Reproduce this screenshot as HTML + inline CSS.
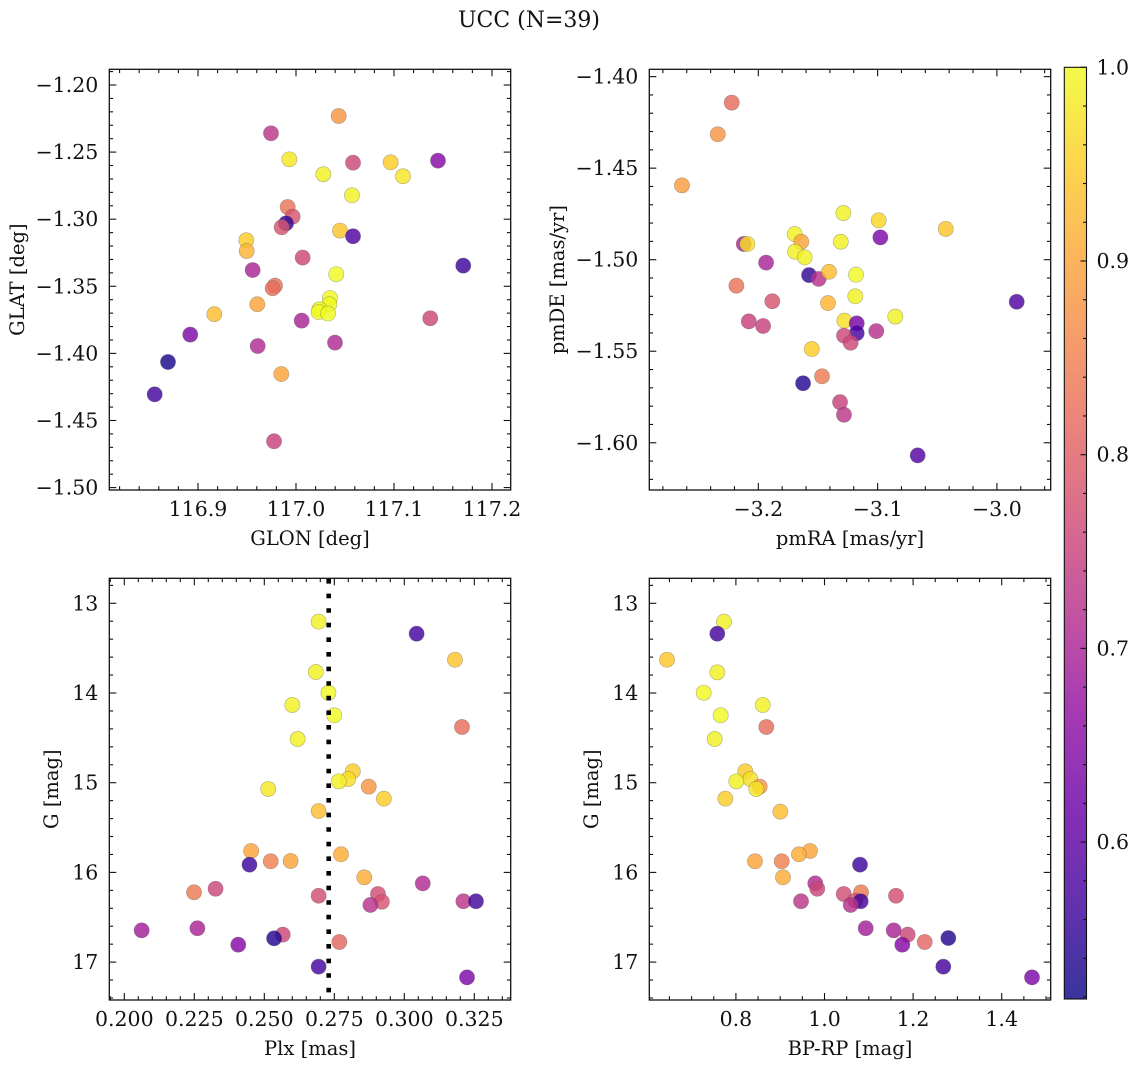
<!DOCTYPE html>
<html><head><meta charset="utf-8">
<style>
html,body{margin:0;padding:0;background:#fff;}
svg{display:block;font-family:"DejaVu Serif","Liberation Serif",serif;}
</style></head>
<body>
<svg id="fig" width="1136" height="1067" viewBox="0 0 1136 1067" xmlns="http://www.w3.org/2000/svg">
<text x="529" y="27" font-size="22" text-anchor="middle" fill="#111">UCC (N=39)</text>
</svg>
<script>
// ---- Panel 1: GLON / GLAT ----
const glon = [117.0436,116.9745,116.9932,117.0582,117.0966,117.1449,117.0279,117.1092,117.0571,116.9915,116.9966,116.9898,116.9854,117.0449,117.0582,116.9493,116.9497,117.0068,116.9558,117.1707,117.0411,116.9786,116.9762,117.0347,117.034,116.9605,117.0238,117.0231,117.0327,116.9167,117.137,117.0058,116.8921,117.0398,116.9609,116.8694,116.985,116.8558,116.9776];
const glat = [-1.2231,-1.236,-1.2554,-1.2579,-1.2576,-1.2564,-1.2665,-1.268,-1.2822,-1.2909,-1.2981,-1.3031,-1.306,-1.3085,-1.3127,-1.3157,-1.3237,-1.3286,-1.3379,-1.3346,-1.341,-1.3495,-1.3515,-1.3587,-1.3634,-1.3634,-1.3672,-1.3692,-1.3703,-1.3708,-1.3738,-1.3756,-1.386,-1.392,-1.3945,-1.4064,-1.4154,-1.4305,-1.4655];
const probPos = [0.88,0.73,0.98,0.76,0.95,0.65,0.99,0.98,0.99,0.83,0.78,0.55,0.78,0.94,0.58,0.95,0.92,0.76,0.70,0.56,1.0,0.83,0.82,1.0,1.0,0.9,1.0,1.0,1.0,0.93,0.76,0.70,0.64,0.71,0.71,0.53,0.9,0.57,0.75];
// ---- Panel 2: pmRA / pmDE ----
const pmra = [-3.2223,-3.234,-3.264,-3.1287,-3.0991,-3.0429,-3.0977,-3.1695,-3.164,-3.1309,-3.2122,-3.2092,-3.1692,-3.1611,-3.1935,-3.1575,-3.1494,-3.1407,-3.1181,-3.2184,-3.1187,-3.1883,-3.1416,-2.9834,-3.0852,-3.1279,-3.1175,-3.208,-3.196,-3.1011,-3.1175,-3.1282,-3.1226,-3.1552,-3.1466,-3.1625,-3.1315,-3.1282,-3.0664];
const pmde = [-1.4142,-1.4315,-1.4594,-1.4745,-1.4785,-1.4832,-1.4878,-1.486,-1.4902,-1.4902,-1.4914,-1.4914,-1.4956,-1.4987,-1.5016,-1.5084,-1.5105,-1.5066,-1.5082,-1.5142,-1.52,-1.5227,-1.5237,-1.523,-1.5311,-1.5333,-1.5348,-1.5337,-1.5362,-1.539,-1.5401,-1.5415,-1.5454,-1.5488,-1.5637,-1.5675,-1.5778,-1.5847,-1.6069];
const probPm = [0.82,0.88,0.89,0.99,0.96,0.94,0.64,0.99,0.9,0.99,0.70,0.97,0.99,0.99,0.70,0.55,0.72,0.93,1.0,0.83,0.99,0.78,0.92,0.58,0.99,0.97,0.63,0.75,0.75,0.72,0.57,0.76,0.76,0.95,0.84,0.54,0.75,0.73,0.59];
// ---- Panels 3 & 4: Plx, BP-RP, G ----
const plx = [0.2694,0.3044,0.3181,0.2684,0.2729,0.26,0.275,0.3206,0.2619,0.2816,0.2799,0.2766,0.2873,0.2514,0.2927,0.2694,0.2453,0.2774,0.2523,0.2594,0.2447,0.2857,0.3066,0.2326,0.2249,0.2694,0.2906,0.292,0.3211,0.3256,0.2879,0.2062,0.2261,0.2566,0.2535,0.2407,0.2768,0.2694,0.3224];
const gmagPlx = [13.205,13.339,13.629,13.766,13.997,14.134,14.249,14.379,14.513,14.873,14.959,14.985,15.044,15.07,15.178,15.316,15.761,15.798,15.876,15.873,15.914,16.055,16.122,16.182,16.222,16.26,16.241,16.327,16.322,16.322,16.363,16.646,16.623,16.694,16.735,16.806,16.776,17.051,17.17];
const probPlx = [0.99,0.57,0.94,0.99,1.0,0.99,1.0,0.82,0.99,0.95,0.97,0.99,0.88,0.98,0.95,0.93,0.9,0.91,0.85,0.9,0.56,0.91,0.71,0.76,0.84,0.77,0.77,0.78,0.73,0.57,0.72,0.69,0.70,0.76,0.54,0.65,0.81,0.57,0.64];
const bprp = [0.7731,0.758,0.6445,0.758,0.7273,0.8605,0.7657,0.8686,0.7521,0.8212,0.8325,0.8009,0.8537,0.846,0.7761,0.9002,0.9673,0.9424,0.9034,0.8431,1.0801,0.9063,0.9792,0.9837,1.0824,1.0433,1.1614,1.0696,0.947,1.0817,1.0591,1.093,1.1562,1.1878,1.2795,1.1756,1.2262,1.2682,1.4684];
const gmagCmd = [13.205,13.339,13.629,13.77,13.997,14.134,14.249,14.379,14.513,14.873,14.959,14.985,15.044,15.07,15.178,15.323,15.761,15.798,15.876,15.876,15.914,16.055,16.122,16.182,16.222,16.241,16.26,16.316,16.322,16.322,16.363,16.623,16.646,16.694,16.732,16.806,16.776,17.051,17.17];
const probCmd = [0.99,0.57,0.94,0.99,1.0,0.99,1.0,0.82,0.99,0.95,0.97,0.99,0.88,0.98,0.95,0.93,0.9,0.91,0.85,0.9,0.56,0.91,0.71,0.76,0.84,0.77,0.77,0.78,0.73,0.57,0.72,0.69,0.70,0.76,0.54,0.65,0.81,0.57,0.64];
const plxMedian = [0.273];
// ---- tick labels ----
const glonTicks = [116.9,117.0,117.1,117.2];
const glatTicks = [-1.20,-1.25,-1.30,-1.35,-1.40,-1.45,-1.50];
const pmraTicks = [-3.2,-3.1,-3.0];
const pmdeTicks = [-1.40,-1.45,-1.50,-1.55,-1.60];
const plxTicks = [0.200,0.225,0.250,0.275,0.300,0.325];
const gTicks = [13,14,15,16,17];
const bprpTicks = [0.8,1.0,1.2,1.4];
const cbarTicks = [0.6,0.7,0.8,0.9,1.0];
const cbarRange = [0.519,1.0];

const NS='http://www.w3.org/2000/svg';
const svg=document.getElementById('fig');
const FS=20.5, LS=19.5;
function mk(tag,attrs,parent){const e=document.createElementNS(NS,tag);for(const k in attrs)e.setAttribute(k,attrs[k]);(parent||svg).appendChild(e);return e;}
const stops=[[0,[13,8,135]],[0.1,[65,4,157]],[0.2,[106,0,168]],[0.3,[143,13,164]],[0.4,[177,42,144]],[0.5,[204,71,120]],[0.6,[225,100,98]],[0.7,[242,132,75]],[0.8,[252,166,54]],[0.9,[252,206,37]],[1,[240,249,33]]];
function plasma(t){t=Math.max(0,Math.min(1,t));for(let i=1;i<stops.length;i++){if(t<=stops[i][0]){const a=stops[i-1],b=stops[i];const f=(t-a[0])/(b[0]-a[0]);const c=a[1].map((v,j)=>Math.round(v+(b[1][j]-v)*f));return 'rgb('+c.join(',')+')';}}return 'rgb(240,249,33)';}
function pcol(p){return plasma((p-cbarRange[0])/(cbarRange[1]-cbarRange[0]));}
function fmt(v,d){const s=Math.abs(v).toFixed(d);return (v<-1e-9?'\u2212':'')+s;}

function panel(o){
  const g=mk('g',{});
  
  
  const sx=v=>o.x0+(v-o.xd[0])/(o.xd[1]-o.xd[0])*(o.x1-o.x0);
  const sy=o.yinv?(v=>o.y0+(v-o.yd[0])/(o.yd[1]-o.yd[0])*(o.y1-o.y0)):(v=>o.y1-(v-o.yd[0])/(o.yd[1]-o.yd[0])*(o.y1-o.y0));
  const pg=mk('g',{},g);
  
  
  for(let i=0;i<o.xs.length;i++){
    const c=mk('circle',{cx:sx(o.xs[i]),cy:sy(o.ys[i]),r:7.6,fill:pcol(o.ps[i]),'fill-opacity':0.82,stroke:'#555','stroke-opacity':0.45,'stroke-width':0.6},pg);
    
    
  }
  if(o.extra)o.extra(g,sx,sy);
  const tk=mk('g',{stroke:'#111','stroke-width':1.1},g);
  const eps=1e-6;
  for(let v=Math.ceil(o.xd[0]/o.xmin-eps)*o.xmin; v<=o.xd[1]+eps; v+=o.xmin){
    const isMaj=Math.abs(v/o.xmaj-Math.round(v/o.xmaj))<1e-4;const L=isMaj?7:3.8;const x=sx(v);
    mk('line',{x1:x,x2:x,y1:o.y1,y2:o.y1-L},tk);mk('line',{x1:x,x2:x,y1:o.y0,y2:o.y0+L},tk);
  }
  for(let v=Math.ceil(o.yd[0]/o.ymin-eps)*o.ymin; v<=o.yd[1]+eps; v+=o.ymin){
    const isMaj=Math.abs(v/o.ymaj-Math.round(v/o.ymaj))<1e-4;const L=isMaj?7:3.8;const y=sy(v);
    mk('line',{x1:o.x0,x2:o.x0+L,y1:y,y2:y},tk);mk('line',{x1:o.x1,x2:o.x1-L,y1:y,y2:y},tk);
  }
  const fr=mk('rect',{x:o.x0,y:o.y0,width:o.x1-o.x0,height:o.y1-o.y0,fill:'none',stroke:'#111','stroke-width':1.3},g);
  
  
  o.xt.forEach(v=>{const t=mk('text',{x:sx(v),y:o.y1+26,'font-size':FS,'text-anchor':'middle',fill:'#111'},g);t.textContent=fmt(v,o.xdec);
    
    });
  o.yt.forEach(v=>{const t=mk('text',{x:o.x0-11,y:sy(v)+7,'font-size':FS,'text-anchor':'end',fill:'#111'},g);t.textContent=fmt(v,o.ydec);
    
    });
  const xl=mk('text',{x:(o.x0+o.x1)/2,y:o.y1+55,'font-size':LS,'text-anchor':'middle',fill:'#111'},g);xl.textContent=o.xlab;
  
  
  const yc=(o.y0+o.y1)/2;
  const yl=mk('text',{x:o.ylx,y:yc,'font-size':LS,'text-anchor':'middle',fill:'#111',transform:'rotate(-90 '+o.ylx+' '+yc+')'},g);yl.textContent=o.ylab;
  
  
}

panel({name:'glon-glat-panel',x0:109.3,x1:510.7,y0:69.3,y1:490,xd:[116.8095,117.2191],yd:[-1.5018,-1.1883],xs:glon,ys:glat,ps:probPos,xmaj:0.1,xmin:0.02,ymaj:0.05,ymin:0.01,xt:glonTicks,yt:glatTicks,xdec:1,ydec:2,xlab:'GLON [deg]',ylab:'GLAT [deg]',ylx:24});
panel({name:'pm-panel',x0:649.3,x1:1050.7,y0:69.3,y1:490,xd:[-3.2914,-2.9549],yd:[-1.6258,-1.396],xs:pmra,ys:pmde,ps:probPm,xmaj:0.1,xmin:0.02,ymaj:0.05,ymin:0.01,xt:pmraTicks,yt:pmdeTicks,xdec:1,ydec:2,xlab:'pmRA [mas/yr]',ylab:'pmDE [mas/yr]',ylx:564});
panel({name:'plx-g-panel',x0:109.3,x1:510.7,y0:578.3,y1:1000,xd:[0.19464,0.3380],yd:[12.7213,17.4225],yinv:true,xs:plx,ys:gmagPlx,ps:probPlx,xmaj:0.025,xmin:0.005,ymaj:1,ymin:0.2,xt:plxTicks,yt:gTicks,xdec:3,ydec:0,xlab:'Plx [mas]',ylab:'G [mag]',ylx:58,
  extra:(g,sx,sy)=>{const l=mk('line',{x1:sx(plxMedian[0]),x2:sx(plxMedian[0]),y1:579,y2:1000,stroke:'#000','stroke-width':4.6,'stroke-dasharray':'4.6 10'},g);
    
    }});
panel({name:'cmd-panel',x0:649.3,x1:1050.7,y0:578.3,y1:1000,xd:[0.6045,1.5106],yd:[12.7213,17.4225],yinv:true,xs:bprp,ys:gmagCmd,ps:probCmd,xmaj:0.2,xmin:0.05,ymaj:1,ymin:0.2,xt:bprpTicks,yt:gTicks,xdec:1,ydec:0,xlab:'BP-RP [mag]',ylab:'G [mag]',ylx:598});

const cb=mk('g',{});


const defs=mk('defs',{},cb);
const lg=mk('linearGradient',{id:'cbg',x1:0,y1:1,x2:0,y2:0},defs);
for(let i=0;i<=20;i++){mk('stop',{offset:i/20,'stop-color':plasma(i/20),'stop-opacity':0.82},lg);}
const cbx0=1064.3,cbx1=1086.5,cby0=67.3,cby1=999;
mk('rect',{x:cbx0,y:cby0,width:cbx1-cbx0,height:cby1-cby0,fill:'url(#cbg)',stroke:'#111','stroke-width':1.1},cb);
const cy=v=>cby1-(v-cbarRange[0])/(cbarRange[1]-cbarRange[0])*(cby1-cby0);
for(let v=0.52;v<=1.0001;v+=0.02){const y=cy(v);const maj=Math.abs(v*10-Math.round(v*10))<1e-4;mk('line',{x1:cbx1,x2:cbx1-(maj?6:3.5),y1:y,y2:y,stroke:'#111','stroke-width':1.1},cb);}
cbarTicks.forEach(v=>{const t=mk('text',{x:cbx1+10,y:cy(v)+7,'font-size':FS,fill:'#111'},cb);t.textContent=v.toFixed(1);
  
  });
</script>
</body></html>
